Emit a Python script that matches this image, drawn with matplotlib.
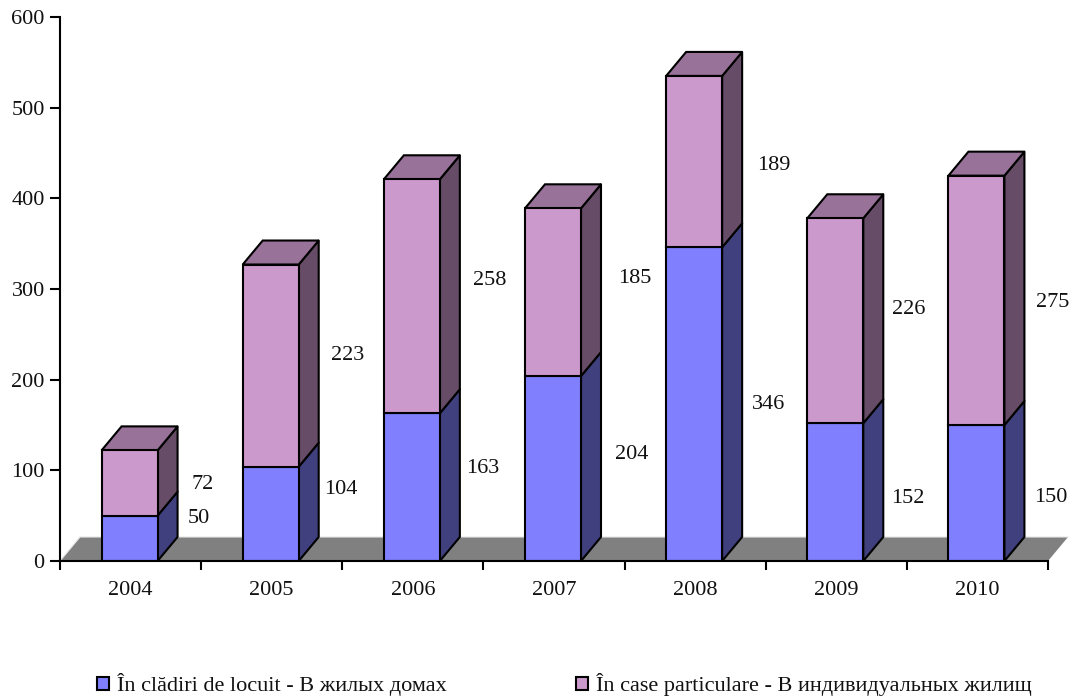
import matplotlib
matplotlib.use('Agg')
import matplotlib.pyplot as plt
from matplotlib.patches import Polygon, Patch

plt.rcParams['font.family'] = ['Liberation Serif', 'DejaVu Serif']

years = ['2004', '2005', '2006', '2007', '2008', '2009', '2010']
cladiri = [50, 104, 163, 204, 346, 152, 150]
case = [72, 223, 258, 185, 189, 226, 275]
legend_names = ['În clădiri de locuit - В жилых домах',
                'În case particulare - В индивидуальных жилищ']

# label offsets from the segment middle, in pixels (they were moved by hand in the original)
cladiri_off = [(68, 20), (69, 24), (70, 19), (78, 14), (73, 0), (72, -6), (73, -5)]
case_off = [(72, -1), (76, 10), (77, 16), (81, 14), (79, -4), (72, 11), (75, -2)]

W, H = 1075, 697
fig = plt.figure(figsize=(W / 100, H / 100), dpi=100)
ax = fig.add_axes([60 / W, (H - 561) / H, 988 / W, 544 / H])
ax.set_xlim(-0.5, 6.5)
ax.set_ylim(0, 600)

# depth of the fake 3d, converted to data units
px_x = 7 / 988
px_y = 600 / 544
dx = 20 * px_x
dy = 24 * px_y
bar_w = 56 * px_x
shift = -1 * px_x

blue = ['#8080FF', '#40407F']
pink = ['#CC99CC', '#664C66', '#997299']
lw = 1.5
txt = 16


def side(x, y0, y1, color, z):
    pts = [(x, y0), (x + dx, y0 + dy), (x + dx, y1 + dy), (x, y1)]
    ax.add_patch(Polygon(pts, closed=True, fc=color, ec='black', lw=lw,
                         joinstyle='round', clip_on=False, zorder=z))


# floor
ax.add_patch(Polygon([(-0.5, 0), (-0.5 + dx, dy), (6.5 + dx, dy), (6.5, 0)], closed=True,
                     fc='#808080', ec='none', clip_on=False, zorder=1))
ax.plot([-0.5, -0.5 + dx, 6.5 + dx], [0, dy, dy], color='#E6E6E6', lw=0.8,
        clip_on=False, zorder=1)

for i in range(len(years)):
    x = i + shift
    right = x + bar_w / 2
    top = cladiri[i] + case[i]
    z = 3 + i
    side(right, 0, cladiri[i], blue[1], z)
    side(right, cladiri[i], top, pink[1], z)
    ax.add_patch(Polygon([(x - bar_w / 2, top), (x - bar_w / 2 + dx, top + dy),
                          (right + dx, top + dy), (right, top)], closed=True,
                         fc=pink[2], ec='black', lw=lw, clip_on=False, zorder=z))
    ax.bar(x, cladiri[i], bar_w, color=blue[0], edgecolor='black', linewidth=lw, zorder=z)
    ax.bar(x, case[i], bar_w, bottom=cladiri[i], color=pink[0], edgecolor='black',
           linewidth=lw, zorder=z)
    ax.annotate(str(cladiri[i]), xy=(i, cladiri[i] / 2), xytext=cladiri_off[i],
                textcoords='offset pixels', ha='center', va='center', fontsize=txt,
                color='#111111', annotation_clip=False, zorder=20)
    ax.annotate(str(case[i]), xy=(i, cladiri[i] + case[i] / 2), xytext=case_off[i],
                textcoords='offset pixels', ha='center', va='center', fontsize=txt,
                color='#111111', annotation_clip=False, zorder=20)

ax.spines['top'].set_visible(False)
ax.spines['right'].set_visible(False)
ax.spines['left'].set_linewidth(lw)
ax.spines['bottom'].set_linewidth(lw)
ax.spines['left'].set_zorder(15)
ax.spines['bottom'].set_zorder(15)

ax.set_yticks(range(0, 601, 100))
ax.set_xticks(range(len(years)))
ax.set_xticklabels(years)
ax.set_xticks([i - 0.5 for i in range(len(years) + 1)], minor=True)
ax.tick_params(axis='x', which='major', length=0, pad=14.5, labelsize=txt, colors='#111111')
ax.tick_params(axis='x', which='minor', length=6.5, width=lw)
ax.tick_params(axis='y', length=7, width=lw, pad=4, labelsize=txt, colors='#111111')
ax.tick_params(axis='y', color='black')

handles = [Patch(fc=blue[0], ec='black', lw=1.5), Patch(fc=pink[0], ec='black', lw=1.5)]
fig.legend(handles, legend_names, ncol=2, loc='center left', bbox_to_anchor=(97 / W, 1 - 685 / H),
           frameon=False, fontsize=txt, handlelength=0.55, handleheight=0.55, handletextpad=0.35,
           columnspacing=5.8, borderpad=0, borderaxespad=0, labelcolor='#111111')

fig.savefig('out.png', dpi=100)
